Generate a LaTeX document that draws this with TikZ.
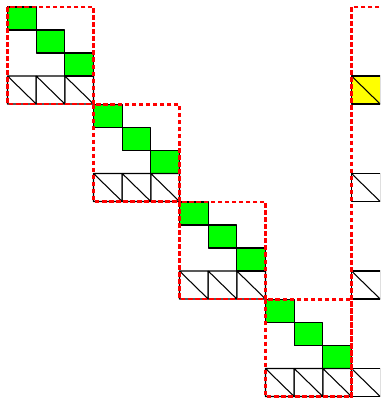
\documentclass[tikz,border=0pt]{standalone}
\usepackage{tikz}
\definecolor{diagGreen}{HTML}{00FF00}
\definecolor{pivotYellow}{HTML}{FFFF00}
\definecolor{boxRed}{HTML}{FF0000}

\begin{document}
\begin{tikzpicture}[x=0.2mm, y=-0.2mm, line join=round]

\def\cw{28.67}
\def\gh{23}
\def\hh{28}
\def\bx{86}
\def\by{97.5}
\def\bcol{351.5}

\tikzset{
  greencell/.style={draw=black, fill=diagGreen, line width=0.6pt},
  hatchcell/.style={draw=black, line width=0.6pt},
  blockbox/.style={draw=boxRed, line width=1.3pt, dash pattern=on 2.6pt off 1.4pt},
}

\useasboundingbox (0,0) rectangle (380,399);
\clip (0,0) rectangle (380,399);

% diagonal blocks
\foreach \k/\col in {0/pivotYellow,1/white,2/white,3/white}{
  \pgfmathsetmacro{\xo}{7.5+\bx*\k}
  \pgfmathsetmacro{\yo}{7+\by*\k}
  \foreach \i in {0,1,2}{
    \draw[greencell] (\xo+\cw*\i,\yo+\gh*\i) rectangle ++(\cw,\gh);
    \draw[hatchcell] (\xo+\cw*\i,\yo+3*\gh) rectangle ++(\cw,\hh)
                     (\xo+\cw*\i,\yo+3*\gh) -- ++(\cw,\hh);
  }
  % border column
  \draw[hatchcell, fill=\col] (\bcol,\yo+3*\gh) rectangle ++(\cw,\hh);
  \draw[hatchcell] (\bcol,\yo+3*\gh) -- ++(\cw,\hh);
}

% block outlines
\foreach \k in {0,...,3}{
  \draw[blockbox] (7.5+\bx*\k,7+\by*\k) rectangle ++(\bx,97);
}
\draw[blockbox] (\bcol,7) rectangle ++(\bx,420);

\end{tikzpicture}
\end{document}
